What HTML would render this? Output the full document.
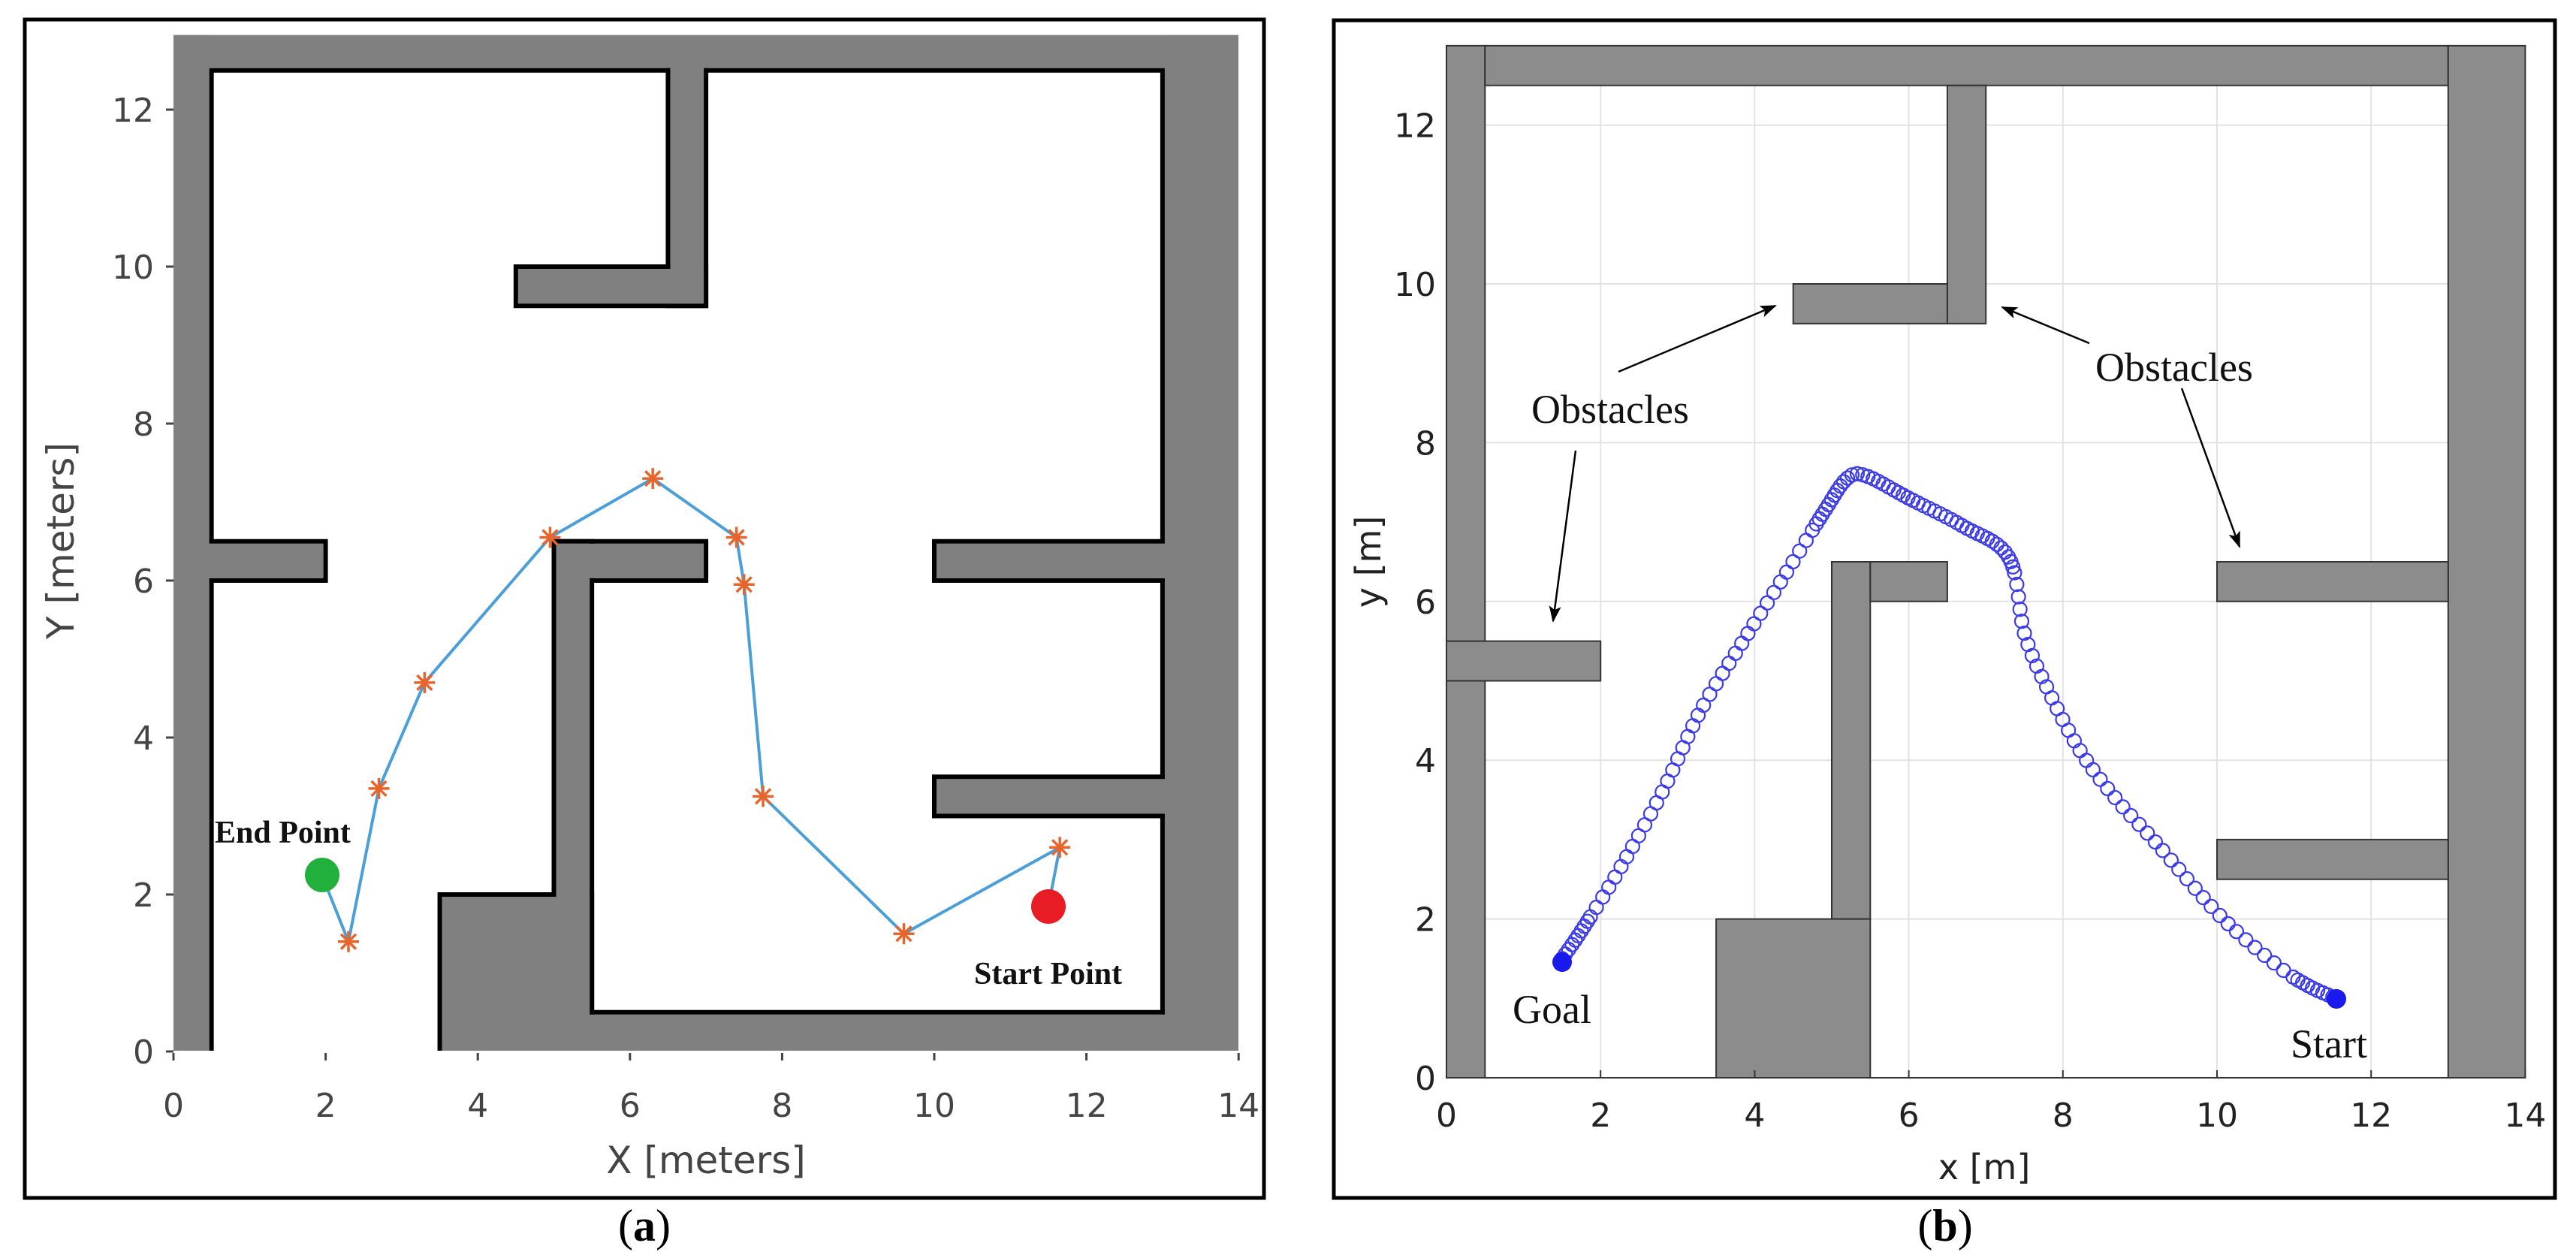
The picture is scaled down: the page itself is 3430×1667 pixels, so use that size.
<!DOCTYPE html>
<html><head><meta charset="utf-8"><style>
html,body{margin:0;padding:0;background:#fff;width:3430px;height:1667px;overflow:hidden}
svg{display:block}
</style></head><body>
<svg id="s" width="3430" height="1667" viewBox="0 0 3430 1667" xmlns="http://www.w3.org/2000/svg">
<defs>
<clipPath id="ca"><rect x="231" y="40" width="1418" height="1359"/></clipPath>
<marker id="ar2" markerWidth="22" markerHeight="16" refX="20" refY="8" orient="auto" markerUnits="userSpaceOnUse"><path d="M0,0 L22,8 L0,16 L5,8 z" fill="#000"/></marker>
</defs>
<rect x="0" y="0" width="3430" height="1667" fill="#fff"/>
<rect x="33" y="26" width="1650" height="1569" fill="none" stroke="#000" stroke-width="5"/>
<rect x="1776" y="27" width="1626" height="1568" fill="none" stroke="#000" stroke-width="5"/>

<g clip-path="url(#ca)">
<g transform="translate(231,1400) scale(101.3,-104.5)">
  <rect x="0" y="-1" width="14" height="13.95" fill="#808080"/>
  <rect x="0.5" y="-0.5" width="12.5" height="13" fill="#fff" stroke="#000" stroke-width="6" vector-effect="non-scaling-stroke"/>
  <g fill="#808080" stroke="#000" stroke-width="6">
    <rect x="6.5" y="9.5" width="0.5" height="3.2" vector-effect="non-scaling-stroke"/>
    <rect x="4.5" y="9.5" width="2.5" height="0.5" vector-effect="non-scaling-stroke"/>
    <rect x="0.3" y="6" width="1.7" height="0.5" vector-effect="non-scaling-stroke"/>
    <rect x="5" y="6" width="2" height="0.5" vector-effect="non-scaling-stroke"/>
    <rect x="5" y="-0.5" width="0.5" height="7" vector-effect="non-scaling-stroke"/>
    <rect x="3.5" y="-0.5" width="2" height="2.5" vector-effect="non-scaling-stroke"/>
    <rect x="5.5" y="-0.5" width="7.7" height="1" vector-effect="non-scaling-stroke"/>
    <rect x="10" y="6" width="3.2" height="0.5" vector-effect="non-scaling-stroke"/>
    <rect x="10" y="3" width="3.2" height="0.5" vector-effect="non-scaling-stroke"/>
  </g>
  <rect x="13.03" y="-1" width="0.97" height="13.95" fill="#808080"/>
  <rect x="0" y="12.53" width="14" height="0.42" fill="#808080"/>
  <rect x="6.53" y="9.53" width="0.44" height="3.1" fill="#808080"/>
  <rect x="5.03" y="-1" width="0.44" height="7.47" fill="#808080"/>
  <rect x="5.03" y="6.03" width="1.94" height="0.44" fill="#808080"/>
  <rect x="3.53" y="-1" width="1.94" height="2.97" fill="#808080"/>
  <rect x="5.03" y="-1" width="7.97" height="1.47" fill="#808080"/>
  <rect x="0" y="-1" width="0.47" height="13.95" fill="#808080"/>
  <rect x="0" y="6.03" width="1.97" height="0.44" fill="#808080"/>
  <rect x="10.03" y="6.03" width="3" height="0.44" fill="#808080"/>
  <rect x="10.03" y="3.03" width="3" height="0.44" fill="#808080"/>
  <rect x="4.53" y="9.53" width="2.4" height="0.44" fill="#808080"/>
  <polyline fill="none" stroke="#4a9fd8" stroke-width="4" vector-effect="non-scaling-stroke"
   points="1.95,2.25 2.3,1.4 2.7,3.35 3.3,4.7 4.95,6.55 6.3,7.3 7.4,6.55 7.5,5.95 7.75,3.25 9.6,1.5 11.65,2.6 11.5,1.85"/>
</g>
</g>
<g id="stars" stroke="#e8642a" stroke-width="3.5"></g>
<circle cx="429" cy="1165" r="23" fill="#22b03c"/>
<circle cx="1396" cy="1207" r="23" fill="#e81c24"/>
<text x="286" y="1122" font-family="Liberation Serif, serif" font-weight="bold" font-size="42" fill="#111">End Point</text>
<text x="1297" y="1310" font-family="Liberation Serif, serif" font-weight="bold" font-size="42" fill="#111">Start Point</text>
<g id="axa" font-family="DejaVu Sans, Liberation Sans, sans-serif" font-size="44" fill="#444"></g>
<text x="0" y="0" transform="translate(98,720) rotate(-90)" text-anchor="middle" font-family="DejaVu Sans, Liberation Sans, sans-serif" font-size="50" fill="#444">Y [meters]</text>
<text x="940" y="1562" text-anchor="middle" font-family="DejaVu Sans, Liberation Sans, sans-serif" font-size="50" fill="#444">X [meters]</text>

<g id="gridb" stroke="#e2e2e2" stroke-width="2"></g>
<g transform="translate(1926,1435) scale(102.6,-105.7)" fill="#8c8c8c" stroke="#333" stroke-width="2">
  <rect x="0" y="0" width="0.5" height="13" vector-effect="non-scaling-stroke"/>
  <rect x="0.5" y="12.5" width="12.5" height="0.5" vector-effect="non-scaling-stroke"/>
  <rect x="13" y="0" width="1" height="13" vector-effect="non-scaling-stroke"/>
  <rect x="6.5" y="9.5" width="0.5" height="3" vector-effect="non-scaling-stroke"/>
  <rect x="4.5" y="9.5" width="2" height="0.5" vector-effect="non-scaling-stroke"/>
  <rect x="0" y="5" width="2" height="0.5" vector-effect="non-scaling-stroke"/>
  <rect x="5" y="2" width="0.5" height="4.5" vector-effect="non-scaling-stroke"/>
  <rect x="5.5" y="6" width="1" height="0.5" vector-effect="non-scaling-stroke"/>
  <rect x="3.5" y="0" width="2" height="2" vector-effect="non-scaling-stroke"/>
  <rect x="10" y="6" width="3" height="0.5" vector-effect="non-scaling-stroke"/>
  <rect x="10" y="2.5" width="3" height="0.5" vector-effect="non-scaling-stroke"/>
</g>
<line x1="1926" y1="1435" x2="3362" y2="1435" stroke="#333" stroke-width="2"/>
<g id="traj" fill="none" stroke="#3a3ae8" stroke-width="2.2"></g>
<circle cx="2080" cy="1281" r="13" fill="#1a1aee"/>
<circle cx="3111" cy="1330" r="13" fill="#1a1aee"/>
<g font-family="Liberation Serif, serif" font-size="54" fill="#111">
<text x="2014" y="1362">Goal</text>
<text x="3050" y="1408">Start</text>
<text x="2039" y="563">Obstacles</text>
<text x="2790" y="507">Obstacles</text>
</g>
<g stroke="#000" stroke-width="2.5" marker-end="url(#ar2)">
<line x1="2155" y1="495" x2="2364" y2="407"/>
<line x1="2782" y1="457" x2="2666" y2="409"/>
<line x1="2098" y1="600" x2="2068" y2="827"/>
<line x1="2905" y1="517" x2="2982" y2="728"/>
</g>
<g id="axb" font-family="DejaVu Sans, Liberation Sans, sans-serif" font-size="44" fill="#222"></g>
<text x="0" y="0" transform="translate(1838,748) rotate(-90)" text-anchor="middle" font-family="DejaVu Sans, Liberation Sans, sans-serif" font-size="46" fill="#222">y [m]</text>
<text x="2642" y="1570" text-anchor="middle" font-family="DejaVu Sans, Liberation Sans, sans-serif" font-size="46" fill="#222">x [m]</text>

<text x="858" y="1652" text-anchor="middle" font-family="Liberation Serif, serif" font-size="60" fill="#000">(<tspan font-weight="bold">a</tspan>)</text>
<text x="2590" y="1652" text-anchor="middle" font-family="Liberation Serif, serif" font-size="60" fill="#000">(<tspan font-weight="bold">b</tspan>)</text>
</svg>
<script>
var NS="http://www.w3.org/2000/svg";
function el(p,t,a,txt){var e=document.createElementNS(NS,t);for(var k in a)e.setAttribute(k,a[k]);if(txt!=null)e.textContent=txt;p.appendChild(e);return e;}
var ax=function(x){return 231+101.3*x},ay=function(y){return 1400-104.5*y};
var st=document.getElementById('stars');
[[2.3,1.4],[2.7,3.35],[3.3,4.7],[4.95,6.55],[6.3,7.3],[7.4,6.55],[7.5,5.95],[7.75,3.25],[9.6,1.5],[11.65,2.6]].forEach(function(p){
 var cx=ax(p[0]),cy=ay(p[1]),r=14;
 for(var i=0;i<4;i++){var a=i*Math.PI/4;el(st,'line',{x1:cx-r*Math.cos(a),y1:cy-r*Math.sin(a),x2:cx+r*Math.cos(a),y2:cy+r*Math.sin(a)});}
});
var A=document.getElementById('axa');
for(var v=0;v<=14;v+=2){el(A,'line',{x1:ax(v),y1:1402,x2:ax(v),y2:1412,stroke:'#444','stroke-width':3});el(A,'text',{x:ax(v),y:1487,'text-anchor':'middle'},String(v));}
for(var v=0;v<=12;v+=2){el(A,'line',{x1:221,y1:ay(v),x2:231,y2:ay(v),stroke:'#444','stroke-width':3});el(A,'text',{x:205,y:ay(v)+16,'text-anchor':'end'},String(v));}
var bx=function(x){return 1926+102.6*x},by=function(y){return 1435-105.7*y};
var G=document.getElementById('gridb');
for(var v=0;v<=14;v+=2)el(G,'line',{x1:bx(v),y1:by(0),x2:bx(v),y2:by(13)});
for(var v=0;v<=12;v+=2)el(G,'line',{x1:bx(0),y1:by(v),x2:bx(14),y2:by(v)});
var B=document.getElementById('axb');
for(var v=0;v<=14;v+=2){el(B,'line',{x1:bx(v),y1:1435,x2:bx(v),y2:1425,stroke:'#333','stroke-width':2});el(B,'text',{x:bx(v),y:1500,'text-anchor':'middle'},String(v));}
for(var v=0;v<=12;v+=2){el(B,'text',{x:1912,y:by(v)+16,'text-anchor':'end'},String(v));}
var pts=[[1.5,1.5],[1.75,1.85],[2.23,2.6],[2.8,3.6],[3.3,4.63],[3.85,5.5],[4.37,6.3],[4.9,7.13],[5.2,7.55],[5.45,7.58],[6.0,7.3],[6.7,6.95],[7.3,6.55],[7.5,5.6],[7.8,4.9],[8.23,4.11],[8.7,3.5],[9.2,2.97],[10.05,2.03],[10.8,1.4],[11.2,1.15],[11.55,1.0]];
function cr(p0,p1,p2,p3,t){var t2=t*t,t3=t2*t;return [0,1].map(function(i){return 0.5*((2*p1[i])+(-p0[i]+p2[i])*t+(2*p0[i]-5*p1[i]+4*p2[i]-p3[i])*t2+(-p0[i]+3*p1[i]-3*p2[i]+p3[i])*t3);});}
var dense=[];
for(var i=0;i<pts.length-1;i++){var p0=pts[Math.max(0,i-1)],p1=pts[i],p2=pts[i+1],p3=pts[Math.min(pts.length-1,i+2)];for(var k=0;k<60;k++)dense.push(cr(p0,p1,p2,p3,k/60));}
dense.push(pts[pts.length-1]);
var T=document.getElementById('traj');
var last=null;
dense.forEach(function(p){var X=bx(p[0]),Y=by(p[1]);
 if(!last){el(T,'circle',{cx:X,cy:Y,r:9});last=[X,Y];return;}
 var d=Math.hypot(X-last[0],Y-last[1]);
 var sp=15;
 if(p[0]<1.9||p[0]>11.0)sp=7;
 else if(p[0]>4.8&&p[0]<7.45&&p[1]>6.3)sp=7;
 if(d>=sp){el(T,'circle',{cx:X,cy:Y,r:9});last=[X,Y];}
});
</script>
</body></html>
